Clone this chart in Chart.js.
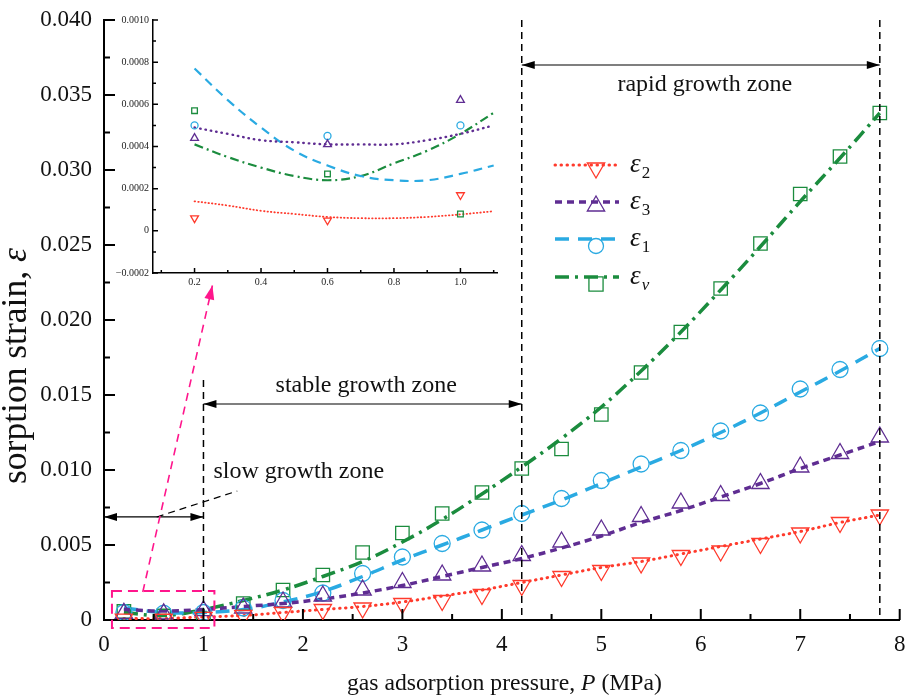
<!DOCTYPE html>
<html>
<head>
<meta charset="utf-8">
<script src="https://cdn.jsdelivr.net/npm/chart.js@4.4.1/dist/chart.umd.min.js"></script>
<style>
  body { margin: 0; background: #fff; }
  #wrap { position: relative; width: 911px; height: 696px; }
  #main { position: absolute; left: 0; top: 0; }
  #inset { position: absolute; left: 105px; top: 0; }
</style>
</head>
<body>
<div id="wrap">
  <canvas id="main" width="911" height="696"></canvas>
  <canvas id="inset" width="405" height="300"></canvas>
</div>
<script>
// measured points, main chart
const pressure = [0.2, 0.6, 1.0, 1.4, 1.8, 2.2, 2.6, 3.0, 3.4, 3.8, 4.2, 4.6, 5.0, 5.4, 5.8, 6.2, 6.6, 7.0, 7.4, 7.8];
const eps2 = [0.00006, 0.00005, 0.00017, 0.0003, 0.0005, 0.0007, 0.0008, 0.0011, 0.0013, 0.0017, 0.0023, 0.0029, 0.0033, 0.0038, 0.0043, 0.0046, 0.0051, 0.0058, 0.0065, 0.0070];
const eps3 = [0.00044, 0.00041, 0.00062, 0.0008, 0.0012, 0.0016, 0.0020, 0.0025, 0.0030, 0.0036, 0.0043, 0.0052, 0.0060, 0.0069, 0.0078, 0.0083, 0.0091, 0.0102, 0.0111, 0.0122];
const eps1 = [0.00050, 0.00045, 0.00050, 0.0008, 0.0013, 0.0018, 0.0031, 0.0042, 0.0051, 0.0060, 0.0071, 0.0081, 0.0093, 0.0104, 0.0113, 0.0126, 0.0138, 0.0154, 0.0167, 0.0181];
const epsV = [0.00057, 0.00027, 0.00008, 0.0011, 0.0020, 0.0030, 0.0045, 0.0058, 0.0071, 0.0085, 0.0101, 0.0114, 0.0137, 0.0165, 0.0192, 0.0221, 0.0251, 0.0284, 0.0309, 0.0338];

// fitted curves, same pressures
const fit2 = [0.0001, 0.0001, 0.0002, 0.0003, 0.0005, 0.0007, 0.0009, 0.0012, 0.0016, 0.0020, 0.0025, 0.0030, 0.0035, 0.0039, 0.0044, 0.0049, 0.0054, 0.0059, 0.0065, 0.0070];
const fit3 = [0.0007, 0.0006, 0.0007, 0.0009, 0.0011, 0.0014, 0.0018, 0.0023, 0.0029, 0.0035, 0.0041, 0.0048, 0.0056, 0.0065, 0.0073, 0.0082, 0.0091, 0.0101, 0.0110, 0.0119];
const fit1 = [0.0008, 0.0005, 0.0005, 0.0007, 0.0012, 0.0019, 0.0029, 0.0040, 0.0050, 0.0060, 0.0070, 0.0080, 0.0091, 0.0102, 0.0113, 0.0125, 0.0138, 0.0152, 0.0166, 0.0181];
const fitV = [0.0005, 0.0003, 0.0007, 0.0013, 0.0020, 0.0029, 0.0039, 0.0052, 0.0067, 0.0084, 0.0102, 0.0121, 0.0142, 0.0166, 0.0192, 0.0220, 0.0249, 0.0279, 0.0308, 0.0338];

// inset (low pressure zoom)
const insetP = [0.2, 0.6, 1.0];
const inset2 = [0.00006, 0.00005, 0.00017];
const inset3 = [0.00044, 0.00041, 0.00062];
const inset1 = [0.00050, 0.00045, 0.00050];
const insetV = [0.00057, 0.00027, 0.00008];
const insetFitP = [0.2, 0.3, 0.4, 0.5, 0.6, 0.7, 0.8, 0.9, 1.0, 1.1];
const insetFit2 = [0.00014, 0.00012, 0.000095, 0.00008, 0.000066, 0.00006, 0.00006, 0.000066, 0.000078, 0.000093];
const insetFit3 = [0.00049, 0.00046, 0.00043, 0.00042, 0.00041, 0.00041, 0.00041, 0.00043, 0.00046, 0.00050];
const insetFit1 = [0.00077, 0.00062, 0.00049, 0.00038, 0.00031, 0.00026, 0.00024, 0.00024, 0.00027, 0.00031];
const insetFitV = [0.00041, 0.00035, 0.00030, 0.00026, 0.00024, 0.00026, 0.00032, 0.00038, 0.00046, 0.00056];

const RED = '#ff3a2c', PURPLE = '#5f2d92', BLUE = '#2aaae2', GREEN = '#1b8c3e', PINK = '#ff168c';
const SERIF = '"Liberation Serif", "Times New Roman", serif';

const xy = (xs, ys) => xs.map((x, i) => ({ x: x, y: ys[i] }));

function fitSet(xs, ys, color, dash, width, cap) {
  return {
    data: xy(xs, ys), showLine: true, borderColor: color, borderWidth: width,
    borderDash: dash, borderCapStyle: cap || 'butt', pointRadius: 0, tension: 0.4, fill: false
  };
}
function pointSet(xs, ys, color, style, r, rot) {
  return {
    data: xy(xs, ys), showLine: false, pointStyle: style, pointRadius: r, pointRotation: rot || 0,
    pointBorderColor: color, pointBackgroundColor: 'rgba(0,0,0,0)', pointBorderWidth: 1.3,
    borderColor: color, backgroundColor: 'rgba(0,0,0,0)'
  };
}

// marker shapes like chart.js ones (for the legend)
function marker(ctx, style, x, y, r, rot) {
  ctx.beginPath();
  if (style === 'circle') {
    ctx.arc(x, y, r, 0, Math.PI * 2);
  } else if (style === 'rect') {
    const s = r * Math.SQRT1_2;
    ctx.rect(x - s, y - s, 2 * s, 2 * s);
  } else {
    let a = (rot || 0) * Math.PI / 180;
    ctx.moveTo(x + Math.sin(a) * r, y - Math.cos(a) * r);
    a += 2 * Math.PI / 3;
    ctx.lineTo(x + Math.sin(a) * r, y - Math.cos(a) * r);
    a += 2 * Math.PI / 3;
    ctx.lineTo(x + Math.sin(a) * r, y - Math.cos(a) * r);
    ctx.closePath();
  }
  ctx.stroke();
}

function arrowHead(ctx, x, y, dx, dy, len, half) {
  const l = Math.hypot(dx, dy), ux = dx / l, uy = dy / l;
  ctx.beginPath();
  ctx.moveTo(x, y);
  ctx.lineTo(x - ux * len - uy * half, y - uy * len + ux * half);
  ctx.lineTo(x - ux * len + uy * half, y - uy * len - ux * half);
  ctx.closePath();
  ctx.fill();
}

function hArrow(ctx, x1, x2, y) {
  ctx.setLineDash([]);
  ctx.lineWidth = 1.2;
  ctx.beginPath(); ctx.moveTo(x1, y); ctx.lineTo(x2, y); ctx.stroke();
  arrowHead(ctx, x1, y, -1, 0, 13, 4);
  arrowHead(ctx, x2, y, 1, 0, 13, 4);
}

// draw mixed normal/italic runs so that they fill a given width
function fittedRuns(ctx, parts, width, cx, baseY) {
  let w20 = 0;
  parts.forEach(p => { ctx.font = (p[1] ? 'italic ' : '') + '20px ' + SERIF; w20 += ctx.measureText(p[0]).width; });
  const size = 20 * width / w20;
  let x = cx - width / 2;
  parts.forEach(p => {
    ctx.font = (p[1] ? 'italic ' : '') + size.toFixed(2) + 'px ' + SERIF;
    ctx.fillText(p[0], x, baseY);
    x += ctx.measureText(p[0]).width;
  });
}

const mainTicks = {
  id: 'mainTicks',
  afterDraw(chart) {
    const { ctx, chartArea: a, scales: { x, y } } = chart;
    ctx.save();
    ctx.strokeStyle = '#000';
    ctx.lineWidth = 2;
    ctx.beginPath();
    for (let i = 0; i <= 16; i++) {
      const px = x.getPixelForValue(i * 0.5);
      ctx.moveTo(px, a.bottom); ctx.lineTo(px, a.bottom - (i % 2 ? 6 : 11));
      const py = y.getPixelForValue(i * 0.0025);
      ctx.moveTo(a.left, py); ctx.lineTo(a.left + (i % 2 ? 6 : 11), py);
    }
    ctx.stroke();
    ctx.restore();
  }
};

const annotations = {
  id: 'annotations',
  afterDraw(chart) {
    const { ctx, chartArea: a, scales: { x, y } } = chart;
    ctx.save();
    ctx.strokeStyle = '#000';
    ctx.fillStyle = '#000';
    // zone boundaries
    ctx.lineWidth = 1.5;
    ctx.setLineDash([7, 5]);
    [[1.0, 0.016], [4.2, 0.040], [7.8, 0.040]].forEach(([p, top]) => {
      ctx.beginPath();
      ctx.moveTo(x.getPixelForValue(p), y.getPixelForValue(top));
      ctx.lineTo(x.getPixelForValue(p), a.bottom);
      ctx.stroke();
    });
    // zone arrows
    hArrow(ctx, x.getPixelForValue(4.2), x.getPixelForValue(7.8), y.getPixelForValue(0.037));
    hArrow(ctx, x.getPixelForValue(1.0), x.getPixelForValue(4.2), y.getPixelForValue(0.0144));
    hArrow(ctx, x.getPixelForValue(0), x.getPixelForValue(1.0), y.getPixelForValue(0.00687));
    // leader line
    ctx.lineWidth = 1.2;
    ctx.setLineDash([7, 5]);
    ctx.beginPath();
    ctx.moveTo(x.getPixelForValue(0.53), y.getPixelForValue(0.00687));
    ctx.lineTo(x.getPixelForValue(1.34), y.getPixelForValue(0.0086));
    ctx.stroke();
    // zone labels
    ctx.fillStyle = '#111';
    ctx.font = '24px ' + SERIF;
    ctx.textBaseline = 'alphabetic';
    ctx.textAlign = 'center';
    ctx.fillText('rapid growth zone', x.getPixelForValue(6.04), y.getPixelForValue(0.0353));
    ctx.fillText('stable growth zone', x.getPixelForValue(2.636), y.getPixelForValue(0.0152));
    ctx.textAlign = 'left';
    ctx.fillText('slow growth zone', x.getPixelForValue(1.1), y.getPixelForValue(0.00947));
    // pink zoom box and arrow
    ctx.strokeStyle = PINK;
    ctx.fillStyle = PINK;
    ctx.lineWidth = 2;
    ctx.setLineDash([10, 6]);
    const bx1 = x.getPixelForValue(0.08), bx2 = x.getPixelForValue(1.11);
    const by1 = y.getPixelForValue(0.00193), by2 = y.getPixelForValue(-0.00053);
    ctx.strokeRect(bx1, by1, bx2 - bx1, by2 - by1);
    const ax1 = x.getPixelForValue(0.39), ay1 = y.getPixelForValue(0.00187);
    const ax2 = x.getPixelForValue(1.09), ay2 = y.getPixelForValue(0.0223);
    ctx.lineWidth = 1.6;
    ctx.setLineDash([8, 6]);
    ctx.beginPath(); ctx.moveTo(ax1, ay1); ctx.lineTo(ax2, ay2); ctx.stroke();
    arrowHead(ctx, ax2, ay2, ax2 - ax1, ay2 - ay1, 14, 5);
    ctx.restore();
  }
};

const titlesAndLegend = {
  id: 'titlesAndLegend',
  afterDraw(chart) {
    const ctx = chart.ctx;
    ctx.save();
    ctx.fillStyle = '#111';
    ctx.textBaseline = 'alphabetic';
    ctx.textAlign = 'left';
    // x title
    fittedRuns(ctx, [['gas adsorption pressure, ', false], ['P', true], [' (MPa)', false]], 315, 504.5, 690);
    // y title
    ctx.save();
    ctx.translate(26, 366);
    ctx.rotate(-Math.PI / 2);
    fittedRuns(ctx, [['sorption strain, ', false], ['\u03b5', true]], 236, 0, 0);
    ctx.restore();
    // legend
    const items = [
      { color: RED, dash: [0.5, 5.5], cap: 'round', w: 3, style: 'triangle', rot: 180, r: 10, ly: 165, my: 168, sub: '2', subIt: false },
      { color: PURPLE, dash: [7, 5], cap: 'butt', w: 3.5, style: 'triangle', rot: 0, r: 10, ly: 202, my: 206, sub: '3', subIt: false },
      { color: BLUE, dash: [14, 9], cap: 'butt', w: 3.5, style: 'circle', rot: 0, r: 7.5, ly: 239, my: 246, sub: '1', subIt: false },
      { color: GREEN, dash: [14, 6, 3, 6], cap: 'butt', w: 3.5, style: 'rect', rot: 0, r: 10, ly: 277, my: 284, sub: 'v', subIt: true }
    ];
    items.forEach(d => {
      ctx.strokeStyle = d.color;
      ctx.lineWidth = d.w;
      ctx.lineCap = d.cap;
      ctx.setLineDash(d.dash);
      ctx.beginPath(); ctx.moveTo(555, d.ly); ctx.lineTo(619, d.ly); ctx.stroke();
      ctx.setLineDash([]);
      ctx.lineCap = 'butt';
      ctx.lineWidth = 1.3;
      marker(ctx, d.style, 596, d.my, d.r, d.rot);
      ctx.fillStyle = '#111';
      ctx.font = 'italic 27px ' + SERIF;
      ctx.fillText('\u03b5', 630, d.ly + 7);
      const ew = ctx.measureText('\u03b5').width;
      ctx.font = (d.subIt ? 'italic ' : '') + '17px ' + SERIF;
      ctx.fillText(d.sub, 630 + ew + 1, d.ly + 13);
    });
    ctx.restore();
  }
};

new Chart(document.getElementById('main'), {
  type: 'scatter',
  data: {
    datasets: [
      pointSet(pressure, eps2, RED, 'triangle', 10, 180),
      pointSet(pressure, eps3, PURPLE, 'triangle', 10, 0),
      pointSet(pressure, eps1, BLUE, 'circle', 8, 0),
      pointSet(pressure, epsV, GREEN, 'rect', 9.5, 0),
      fitSet(pressure, fit2, RED, [0.5, 5.5], 3, 'round'),
      fitSet(pressure, fit3, PURPLE, [7, 5], 3.5),
      fitSet(pressure, fit1, BLUE, [14, 9], 3.5),
      fitSet(pressure, fitV, GREEN, [14, 6, 3, 6], 3.5)
    ]
  },
  options: {
    responsive: false,
    animation: false,
    devicePixelRatio: 1,
    layout: { padding: { left: 0, top: 20, right: 7, bottom: 0 } },
    plugins: { legend: { display: false }, tooltip: { enabled: false } },
    scales: {
      x: {
        type: 'linear', min: 0, max: 8,
        ticks: { stepSize: 1, padding: 11, maxRotation: 0, color: '#111', font: { family: SERIF, size: 23 } },
        grid: { drawOnChartArea: false, drawTicks: false },
        border: { color: '#000', width: 2 },
        afterFit: s => { s.height = 76; s.paddingLeft = 0; s.paddingRight = 0; }
      },
      y: {
        type: 'linear', min: 0, max: 0.04,
        ticks: {
          stepSize: 0.005, padding: 12, color: '#111', font: { family: SERIF, size: 23 },
          callback: v => Math.abs(v) < 1e-9 ? '0' : v.toFixed(3)
        },
        grid: { drawOnChartArea: false, drawTicks: false },
        border: { color: '#000', width: 2 },
        afterFit: s => { s.width = 104; s.paddingTop = 0; s.paddingBottom = 0; }
      }
    }
  },
  plugins: [mainTicks, annotations, titlesAndLegend]
});

const insetTicks = {
  id: 'insetTicks',
  afterDraw(chart) {
    const { ctx, chartArea: a, scales: { x, y } } = chart;
    ctx.save();
    ctx.strokeStyle = '#000';
    ctx.lineWidth = 1.5;
    ctx.beginPath();
    for (let i = 0; i <= 10; i++) {
      const px = x.getPixelForValue(0.1 + i * 0.1);
      ctx.moveTo(px, a.bottom); ctx.lineTo(px, a.bottom - (i % 2 ? 5 : 3));
    }
    for (let i = 0; i <= 12; i++) {
      const py = y.getPixelForValue(-0.0002 + i * 0.0001);
      ctx.moveTo(a.left, py); ctx.lineTo(a.left + (i % 2 ? 3 : 5), py);
    }
    ctx.stroke();
    ctx.restore();
  }
};

new Chart(document.getElementById('inset'), {
  type: 'scatter',
  data: {
    datasets: [
      pointSet(insetP, inset2, RED, 'triangle', 4.5, 180),
      pointSet(insetP, inset3, PURPLE, 'triangle', 4.5, 0),
      pointSet(insetP, inset1, BLUE, 'circle', 3.5, 0),
      pointSet(insetP, insetV, GREEN, 'rect', 4, 0),
      fitSet(insetFitP, insetFit2, RED, [0.5, 3], 1.8, 'round'),
      fitSet(insetFitP, insetFit3, PURPLE, [0.5, 5], 2.4, 'round'),
      fitSet(insetFitP, insetFit1, BLUE, [9, 6], 2.2),
      fitSet(insetFitP, insetFitV, GREEN, [9, 4, 2, 4], 2.2)
    ]
  },
  options: {
    responsive: false,
    animation: false,
    devicePixelRatio: 1,
    layout: { padding: { left: 0, top: 20, right: 13, bottom: 0 } },
    plugins: { legend: { display: false }, tooltip: { enabled: false } },
    scales: {
      x: {
        type: 'linear', min: 0.075, max: 1.11,
        ticks: {
          stepSize: 0.2, includeBounds: false, padding: 3, maxRotation: 0, autoSkip: false,
          color: '#222', font: { family: SERIF, size: 10 },
          callback: v => v.toFixed(1)
        },
        grid: { drawOnChartArea: false, drawTicks: false },
        border: { color: '#000', width: 1.5 },
        afterFit: s => { s.height = 27; s.paddingLeft = 0; s.paddingRight = 0; }
      },
      y: {
        type: 'linear', min: -0.0002, max: 0.0010,
        ticks: {
          stepSize: 0.0002, padding: 4, autoSkip: false, color: '#222', font: { family: SERIF, size: 10 },
          callback: v => Math.abs(v) < 1e-9 ? '0' : (v < 0 ? '\u2212' + Math.abs(v).toFixed(4) : v.toFixed(4))
        },
        grid: { drawOnChartArea: false, drawTicks: false },
        border: { color: '#000', width: 1.5 },
        afterFit: s => { s.width = 48; s.paddingTop = 0; s.paddingBottom = 0; }
      }
    }
  },
  plugins: [insetTicks]
});
</script>
</body>
</html>
